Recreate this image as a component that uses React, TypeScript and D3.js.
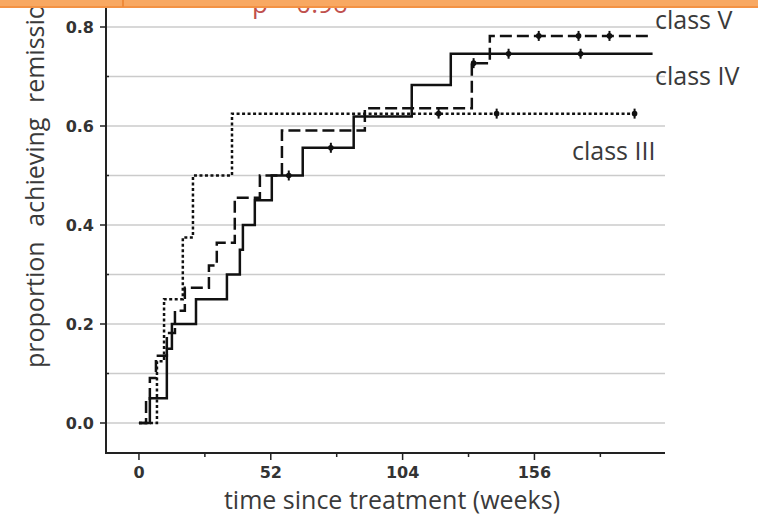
import React from 'react';
import * as d3 from 'd3';

const W = 758;
const H = 517;

// axis ticks
const yTicks = [0, 0.2, 0.4, 0.6, 0.8];
const yMinor = [0.1, 0.3, 0.5, 0.7];
const gridLevels = [0, 0.1, 0.2, 0.3, 0.4, 0.5, 0.6, 0.7, 0.8];
const xTicks = [0, 52, 104, 156];
const xMinor = [26, 78, 130, 182];

// class III (dotted)
const c3Times = [7.1, 9.9, 17.3, 21.3, 36.7];
const c3Values = [0.125, 0.25, 0.375, 0.5, 0.625];
const c3Censored = [118.2, 141.1, 195.5];
const c3End = 195.5;

// class IV (solid)
const c4Times = [4.3, 11, 11, 13, 22.5, 34.7, 39.8, 41, 45.7, 52.4, 64.6, 84.7, 107.6, 123];
const c4Values = [0.05, 0.1, 0.15, 0.2, 0.25, 0.3, 0.35, 0.4, 0.45, 0.5, 0.556, 0.619, 0.683, 0.746];
const c4Censored = [59.1, 75.7, 145.8, 174.2];
const c4End = 202.6;

// class V (dashed)
const c5Times = [2.8, 4.3, 6.7, 11, 14.2, 18.1, 27.6, 30.7, 37.8, 37.8, 47.7, 56.4, 56.4, 89.1, 131.3, 131.3, 138.4];
const c5Values = [0.045, 0.091, 0.136, 0.182, 0.227, 0.273, 0.318, 0.364, 0.409, 0.455, 0.5, 0.545, 0.591, 0.636, 0.682, 0.727, 0.782];
const c5Censored = [132, 157.7, 173.4, 185.6];
const c5End = 202.6;

const series = [
  { name: 'class III', times: c3Times, values: c3Values, censored: c3Censored, end: c3End, dash: '3,2.5' },
  { name: 'class V', times: c5Times, values: c5Values, censored: c5Censored, end: c5End, dash: '12,5' },
  { name: 'class IV', times: c4Times, values: c4Values, censored: c4Censored, end: c4End, dash: null },
];

const x = d3.scaleLinear().domain([-13, 207.5]).range([106, 665]);
const y = d3.scaleLinear().domain([0, 0.8]).range([423, 27]);

const line = d3.line<[number, number]>()
  .x(d => x(d[0]))
  .y(d => y(d[1]))
  .curve(d3.curveStepAfter);

const levelAt = (times: number[], values: number[], t: number) => {
  let v = 0;
  times.forEach((tt, i) => { if (tt <= t) v = values[i]; });
  return v;
};

const tickFont = { fontFamily: 'DejaVu Sans', fontWeight: 'bold' as const, fontSize: 16, fill: '#333' };
const labelFont = { fontFamily: 'Open Sans', fontSize: 25, fill: '#3a3a3a' };

export default function App() {
  return (
    <svg width={W} height={H} style={{ position: 'absolute', left: 0, top: 0, background: '#fff' }}>
      {/* gridlines */}
      {gridLevels.map(v => (
        <line key={v} x1={106} x2={665} y1={y(v)} y2={y(v)} stroke="#cbcbcb" strokeWidth={1.5} />
      ))}

      {/* curves */}
      {series.map(s => {
        const pts: [number, number][] = [[0, 0]];
        s.times.forEach((t, i) => pts.push([t, s.values[i]]));
        pts.push([s.end, s.values[s.values.length - 1]]);
        return (
          <g key={s.name}>
            <path d={line(pts) || ''} fill="none" stroke="#111" strokeWidth={2.5}
              strokeDasharray={s.dash || undefined} />
            {s.censored.map(c => {
              const cx = x(c);
              const cy = y(levelAt(s.times, s.values, c));
              return (
                <g key={c}>
                  <line x1={cx} x2={cx} y1={cy - 5} y2={cy + 5} stroke="#111" strokeWidth={2} />
                  <circle cx={cx} cy={cy} r={2.8} fill="#111" />
                </g>
              );
            })}
          </g>
        );
      })}

      {/* axes */}
      <path d={`M106,0V453H665`} fill="none" stroke="#222" strokeWidth={2} />
      {yTicks.map(v => (
        <g key={v}>
          <line x1={100} x2={106} y1={y(v)} y2={y(v)} stroke="#222" strokeWidth={1.5} />
          <text x={94} y={y(v) + 6} textAnchor="end" {...tickFont}>{d3.format('.1f')(v)}</text>
        </g>
      ))}
      {yMinor.map(v => (
        <line key={v} x1={106} x2={109} y1={y(v)} y2={y(v)} stroke="#222" strokeWidth={1.5} />
      ))}
      {xTicks.map(t => (
        <g key={t}>
          <line x1={x(t)} x2={x(t)} y1={453} y2={460} stroke="#222" strokeWidth={1.5} />
          <text x={x(t)} y={478} textAnchor="middle" {...tickFont}>{t}</text>
        </g>
      ))}
      {xMinor.map(t => (
        <line key={t} x1={x(t)} x2={x(t)} y1={453} y2={457} stroke="#222" strokeWidth={1.5} />
      ))}

      {/* axis titles */}
      <text x={392} y={509} textAnchor="middle" {...labelFont}>time since treatment (weeks)</text>
      <text transform="translate(44,368) rotate(-90)" textAnchor="start" wordSpacing={8} {...labelFont}>
        proportion achieving remission
      </text>

      {/* class labels */}
      <text x={655} y={29} {...labelFont}>class V</text>
      <text x={655} y={85} {...labelFont}>class IV</text>
      <text x={572} y={160} {...labelFont}>class III</text>

      {/* p value, cut by the slide header */}
      <text x={252} y={13} fontFamily="Open Sans" fontSize={26} fill="#c0504d">p = 0.96</text>

      {/* slide header band */}
      <rect x={0} y={0} width={W} height={7} fill="#f8a862" />
      <line x1={0} x2={W} y1={7} y2={7} stroke="#f39244" strokeWidth={2} />
      <line x1={123} x2={123} y1={0} y2={7} stroke="#ee8a3a" strokeWidth={2} />
    </svg>
  );
}
